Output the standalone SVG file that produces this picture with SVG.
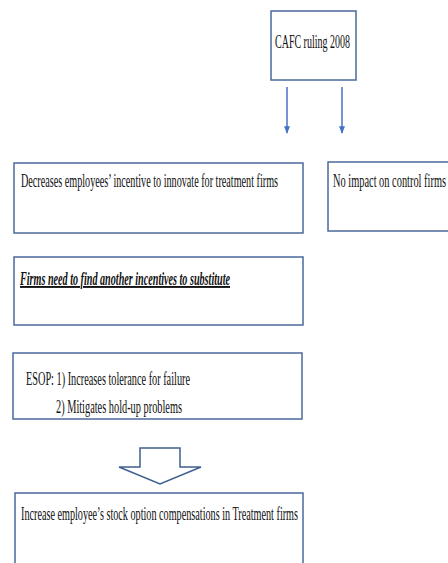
<svg xmlns="http://www.w3.org/2000/svg" width="448" height="563" viewBox="0 0 448 563">
<style>
.box{fill:#fff;stroke:#4a6a9a;stroke-width:1.5}
.t{font-family:"Liberation Serif","Times New Roman",serif;font-size:19px;fill:#111}
.conn{stroke:#4472c4;stroke-width:1.5;fill:none}
</style>
<defs>
<marker id="ah" viewBox="0 0 10 10" refX="9" refY="5" markerWidth="5" markerHeight="5" orient="auto" markerUnits="strokeWidth">
<path d="M0,1 L10,5 L0,9 z" fill="#4472c4"/>
</marker>
</defs>
<rect width="448" height="563" fill="#fff"/>
<g id="cafc">
<rect class="box" x="271" y="11" width="85" height="69"/>
<text class="t" x="275" y="48" textLength="75" lengthAdjust="spacingAndGlyphs">CAFC ruling 2008</text>
</g>
<g id="connectors">
<line class="conn" x1="287" y1="87" x2="287" y2="133" marker-end="url(#ah)"/>
<line class="conn" x1="342" y1="87" x2="342" y2="133" marker-end="url(#ah)"/>
<path d="M140,448 H180 V467 H201 L160,484 L119,467 H140 Z" fill="#fff" stroke="#3e5f8f" stroke-width="1.5" stroke-linejoin="miter"/>
</g>
<g id="decreases">
<rect class="box" x="14" y="163" width="289" height="70"/>
<text class="t" x="21" y="187" textLength="257" lengthAdjust="spacingAndGlyphs">Decreases employees’ incentive to innovate for treatment firms</text>
</g>
<g id="noimpact">
<rect class="box" x="328" y="162" width="130" height="69"/>
<text class="t" x="333" y="187" textLength="113" lengthAdjust="spacingAndGlyphs">No impact on control firms</text>
</g>
<g id="firms">
<rect class="box" x="14" y="257" width="289" height="68"/>
<text class="t" x="20" y="285" textLength="210" lengthAdjust="spacingAndGlyphs" font-size="17" font-weight="bold" font-style="italic" text-decoration="underline">Firms need to find another incentives to substitute</text>
</g>
<g id="esop">
<rect class="box" x="13" y="353" width="289" height="66"/>
<text class="t" x="26" y="385" textLength="164" lengthAdjust="spacingAndGlyphs">ESOP: 1) Increases tolerance for failure</text>
<text class="t" x="56" y="413" textLength="126" lengthAdjust="spacingAndGlyphs">2) Mitigates hold-up problems</text>
</g>
<g id="increase">
<rect class="box" x="15" y="493" width="288" height="90"/>
<text class="t" x="21" y="520" textLength="277" lengthAdjust="spacingAndGlyphs">Increase employee’s stock option compensations in Treatment firms</text>
</g>
</svg>
